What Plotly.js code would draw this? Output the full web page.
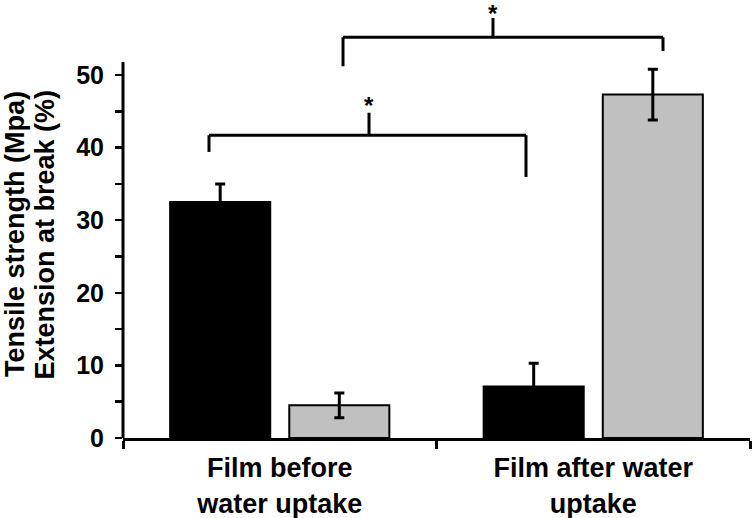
<!DOCTYPE html>
<html>
<head>
<meta charset="utf-8">
<script src="https://cdn.plot.ly/plotly-3.0.1.min.js"></script>
<style>html,body{margin:0;padding:0;background:#fff;}#chart{width:753px;height:518px;}</style>
</head>
<body>
<div id="chart"></div>
<script>
// ---- data ----
var categories = ['Film before<br>water uptake', 'Film after water<br>uptake'];
var tensileStrength = [32.5, 7.1];
var tensileErr = [2.5, 3.2];
var extensionAtBreak = [4.5, 47.3];
var extensionErr = [1.7, 3.5];
var yTickVals = [0, 5, 10, 15, 20, 25, 30, 35, 40, 45, 50];
var yTickText = ['0', '', '10', '', '20', '', '30', '', '40', '', '50'];
var yTitleLines = ['Tensile strength (Mpa)', 'Extension at break (%)'];
var sigMark = '*';

var FONT = 'Liberation Sans, Arial, sans-serif';

var traces = [
  {
    type: 'bar', x: categories, y: tensileStrength, name: 'Tensile strength',
    marker: {color: '#000000', line: {color: '#000000', width: 2}},
    error_y: {type: 'data', array: tensileErr, visible: true, color: '#000000', thickness: 3, width: 5}
  },
  {
    type: 'bar', x: categories, y: extensionAtBreak, name: 'Extension at break',
    marker: {color: '#c0c0c0', line: {color: '#000000', width: 2}},
    error_y: {type: 'data', array: extensionErr, visible: true, color: '#000000', thickness: 3, width: 5}
  }
];

function seg(x0, y0, x1, y1) {
  return {type: 'line', xref: 'x', yref: 'y', x0: x0, y0: y0, x1: x1, y1: y1,
          line: {color: '#000000', width: 3}, layer: 'above'};
}

var shapes = [
  // y axis line (stops just above 50)
  {type: 'line', xref: 'paper', yref: 'y', x0: 0, x1: 0, y0: 0, y1: 51.8,
   line: {color: '#000000', width: 3}, layer: 'above'},
  // bracket 1
  seg(-0.2257, 39.4, -0.2257, 41.7),
  seg(-0.2257, 41.7, 0.7855, 41.7),
  seg(0.7855, 41.7, 0.7855, 35.95),
  seg(0.2847, 41.7, 0.2847, 44.8),
  // bracket 2
  seg(0.2018, 51.2, 0.2018, 55.2),
  seg(0.2018, 55.2, 1.2225, 55.2),
  seg(1.2225, 55.2, 1.2225, 53.3),
  seg(0.6802, 55.2, 0.6802, 57.85)
];

var titleFont = {family: FONT, size: 27, color: '#000', weight: 700};
var starFont = {family: FONT, size: 24, color: '#000', weight: 700};
var annotations = [
  {xref: 'paper', yref: 'paper', x: (15 - 123) / 627, y: (438 - 234) / 428,
   xanchor: 'center', yanchor: 'middle', textangle: -90, showarrow: false, borderpad: 0,
   text: yTitleLines[0], font: titleFont},
  {xref: 'paper', yref: 'paper', x: (44.5 - 123) / 627, y: (438 - 235) / 428,
   xanchor: 'center', yanchor: 'middle', textangle: -90, showarrow: false, borderpad: 0,
   text: yTitleLines[1], font: titleFont},
  {xref: 'x', yref: 'y', x: 0.2847, y: 45.8, xanchor: 'center', yanchor: 'middle',
   showarrow: false, text: sigMark, font: starFont},
  {xref: 'x', yref: 'y', x: 0.6802, y: 58.4, xanchor: 'center', yanchor: 'middle',
   showarrow: false, text: sigMark, font: starFont}
];

var layout = {
  width: 753, height: 518,
  margin: {l: 123, r: 3, t: 10, b: 80, pad: 0},
  paper_bgcolor: '#ffffff', plot_bgcolor: '#ffffff',
  showlegend: false,
  barmode: 'group', bargap: 0.24, bargroupgap: 0.16,
  font: {family: FONT, color: '#000000'},
  xaxis: {
    type: 'category', range: [-0.5, 1.5],
    showline: true, linecolor: '#000', linewidth: 3,
    ticks: 'outside', tickson: 'boundaries', ticklen: 8, tickwidth: 3, tickcolor: '#000',
    showgrid: false, zeroline: false,
    tickfont: {family: FONT, size: 27, color: '#000', weight: 700},
    ticklabelstandoff: 4
  },
  yaxis: {
    range: [0, 58.95], showline: false,
    tickmode: 'array', tickvals: yTickVals, ticktext: yTickText,
    ticks: 'outside', ticklen: 7, tickwidth: 2.5, tickcolor: '#000',
    showgrid: false, zeroline: false,
    tickfont: {family: FONT, size: 25, color: '#000', weight: 700},
    ticklabelstandoff: 6
  },
  shapes: shapes,
  annotations: annotations
};

Plotly.newPlot('chart', traces, layout, {staticPlot: true, displayModeBar: false});
</script>
</body>
</html>
